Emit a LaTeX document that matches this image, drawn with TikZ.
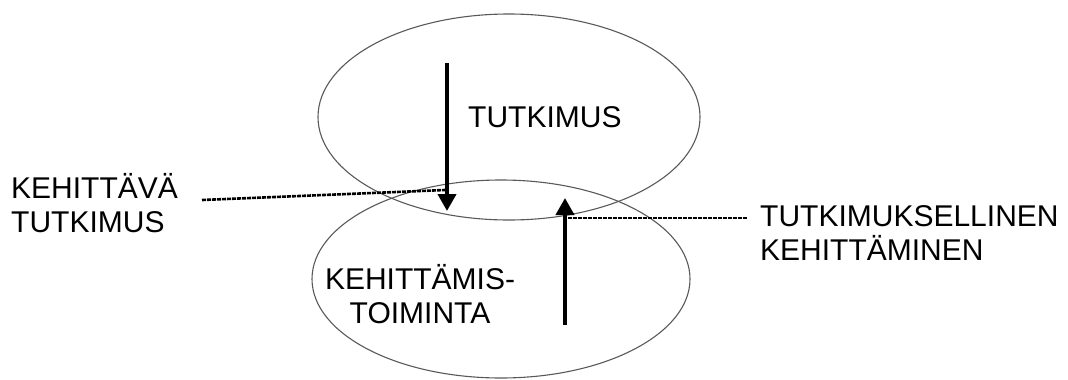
\documentclass[tikz,border=0pt]{standalone}
\usepackage{fontspec}
\setmainfont{Liberation Sans}
\usetikzlibrary{arrows.meta,shapes.geometric}
\begin{document}
\begin{tikzpicture}[x=1pt,y=-1pt,
  ring/.style={ellipse,draw=black!65,line width=1.1pt,inner sep=0pt},
  lbl/.style={font=\fontsize{30}{34}\selectfont,inner sep=0pt},
  bigarrow/.style={line width=4pt,-{Triangle[width=18pt,length=17pt]}},
  leader/.style={line width=2.6pt,dash pattern=on 4pt off 1pt}]
\useasboundingbox (0,0) rectangle (1068,380);
\node[ring,minimum width=382pt,minimum height=206pt] (top) at (509,117) {};
\node[ring,minimum width=378pt,minimum height=198pt] (bot) at (501,279) {};
\node[lbl,anchor=base west] (tut) at (468,127) {TUTKIMUS};
\node[lbl,anchor=base,align=center] (keh) at (420,323) {KEHITTÄMIS-\\TOIMINTA};
\node[lbl,anchor=base west,align=left] (kt) at (11,232) {KEHITTÄVÄ\\TUTKIMUS};
\node[lbl,anchor=base west,align=left] (tk) at (760,260) {TUTKIMUKSELLINEN\\KEHITTÄMINEN};
\coordinate (d1) at (447,63);
\coordinate (d2) at (447,211);
\coordinate (u1) at (565,325);
\coordinate (u2) at (565,198);
\coordinate (ld) at (202,200);
\coordinate (ldend) at (445,190);
\coordinate (rd) at (747,218);
\coordinate (rdend) at (565,218);
\draw[bigarrow] (d1) -- (d2);
\draw[bigarrow] (u1) -- (u2);
\draw[leader] (ld) -- (ldend);
\draw[leader] (rd) -- (rdend);
\end{tikzpicture}
\end{document}
